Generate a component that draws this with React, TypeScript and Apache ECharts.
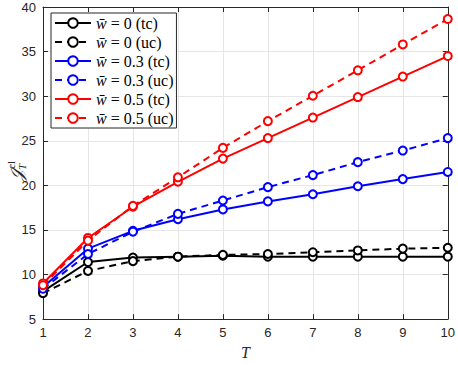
import React, { useEffect, useRef } from "react";
import * as echarts from "echarts";

const T = [1, 2, 3, 4, 5, 6, 7, 8, 9, 10];
const black_tc = [8.1, 11.4, 11.9, 12.0, 12.1, 12.0, 12.0, 12.0, 12.0, 12.0];
const black_uc = [7.9, 10.4, 11.5, 12.0, 12.2, 12.3, 12.5, 12.7, 12.9, 13.0];
const blue_tc = [8.6, 12.9, 14.9, 16.2, 17.3, 18.2, 19.0, 19.9, 20.7, 21.5];
const blue_uc = [8.4, 12.3, 14.8, 16.8, 18.3, 19.8, 21.15, 22.6, 23.9, 25.3];
const red_tc = [9.0, 14.1, 17.6, 20.4, 23.0, 25.3, 27.6, 29.9, 32.2, 34.5];
const red_uc = [8.8, 13.8, 17.7, 20.9, 24.2, 27.2, 30.05, 32.9, 35.8, 38.65];

const seriesDefs = [
  { name: "w̄ = 0 (tc)", label: "0 (tc)", data: black_tc, color: "#000000", dashed: false },
  { name: "w̄ = 0 (uc)", label: "0 (uc)", data: black_uc, color: "#000000", dashed: true },
  { name: "w̄ = 0.3 (tc)", label: "0.3 (tc)", data: blue_tc, color: "#0000ff", dashed: false },
  { name: "w̄ = 0.3 (uc)", label: "0.3 (uc)", data: blue_uc, color: "#0000ff", dashed: true },
  { name: "w̄ = 0.5 (tc)", label: "0.5 (tc)", data: red_tc, color: "#ff0000", dashed: false },
  { name: "w̄ = 0.5 (uc)", label: "0.5 (uc)", data: red_uc, color: "#ff0000", dashed: true },
];

const AX = "#262626";
const SERIF = "'Liberation Serif', 'DejaVu Serif', serif";
const SANS = "'Liberation Sans', Arial, sans-serif";

export default function App() {
  const ref = useRef<HTMLDivElement>(null);
  useEffect(() => {
    if (!ref.current) return;
    const chart = echarts.init(ref.current, null, { renderer: "svg" });
    const labelMap: Record<string, string> = {};
    seriesDefs.forEach((s) => (labelMap[s.name] = s.label));
    chart.setOption({
      animation: false,
      backgroundColor: "#ffffff",
      grid: { left: 43, right: 9, top: 7, bottom: 38, containLabel: false },
      xAxis: [
        {
          type: "value",
          min: 1,
          max: 10,
          interval: 1,
          name: "T",
          nameLocation: "middle",
          nameGap: 24,
          nameTextStyle: { fontFamily: SERIF, fontStyle: "italic", fontSize: 16, color: AX },
          axisLine: { show: true, lineStyle: { color: AX, width: 1 } },
          axisTick: { show: true, inside: true, length: 5, lineStyle: { color: AX } },
          axisLabel: { color: AX, fontFamily: SANS, fontSize: 13, margin: 7 },
          splitLine: { show: true, lineStyle: { color: "#e6e6e6", width: 1 } },
        },
        {
          type: "value",
          min: 1,
          max: 10,
          interval: 1,
          position: "top",
          axisLine: { show: true, lineStyle: { color: AX, width: 1 } },
          axisTick: { show: true, inside: true, length: 5, lineStyle: { color: AX } },
          axisLabel: { show: false },
          splitLine: { show: false },
        },
      ],
      yAxis: [
        {
          type: "value",
          min: 5,
          max: 40,
          interval: 5,
          axisLine: { show: true, lineStyle: { color: AX, width: 1 } },
          axisTick: { show: true, inside: true, length: 5, lineStyle: { color: AX } },
          axisLabel: { color: AX, fontFamily: SANS, fontSize: 13, margin: 7 },
          splitLine: { show: true, lineStyle: { color: "#e6e6e6", width: 1 } },
        },
        {
          type: "value",
          min: 5,
          max: 40,
          interval: 5,
          position: "right",
          axisLine: { show: true, lineStyle: { color: AX, width: 1 } },
          axisTick: { show: true, inside: true, length: 5, lineStyle: { color: AX } },
          axisLabel: { show: false },
          splitLine: { show: false },
        },
      ],
      legend: {
        orient: "vertical",
        left: 51,
        top: 13,
        padding: [2, 3, 2, 3],
        itemGap: 3,
        itemWidth: 36,
        itemHeight: 12,
        backgroundColor: "#ffffff",
        borderColor: AX,
        borderWidth: 1,
        borderRadius: 0,
        itemStyle: { borderWidth: 2 },
        data: seriesDefs.map((s) => s.name),
        formatter: (name: string) => "{i|w̄} = " + labelMap[name],
        textStyle: {
          fontFamily: SERIF,
          fontSize: 16,
          color: "#000",
          rich: {
            i: { fontFamily: SERIF, fontStyle: "italic", fontSize: 16, color: "#000" },
          },
        },
      },
      series: seriesDefs.map((s) => ({
        name: s.name,
        type: "line",
        xAxisIndex: 0,
        yAxisIndex: 0,
        data: T.map((t, i) => [t, s.data[i]]),
        symbol: "emptyCircle",
        symbolSize: 8,
        showAllSymbol: true,
        lineStyle: { color: s.color, width: 2, type: s.dashed ? [7, 5] : "solid" },
        itemStyle: { color: s.color, borderColor: s.color, borderWidth: 2 },
        emphasis: { disabled: true },
      })),
      graphic: [
        {
          type: "group",
          x: 17,
          y: 170,
          rotation: Math.PI / 2,
          children: [
            {
              type: "text",
              x: 0,
              y: 0,
              style: {
                text: "𝒥",
                font: "italic 18px " + SERIF,
                fill: AX,
                textAlign: "right",
                textVerticalAlign: "middle",
              },
            },
            {
              type: "text",
              x: 1,
              y: -6,
              style: {
                text: "cl",
                font: "11px " + SERIF,
                fill: AX,
                textAlign: "left",
                textVerticalAlign: "middle",
              },
            },
            {
              type: "text",
              x: 0,
              y: 5,
              style: {
                text: "T",
                font: "italic 11px " + SERIF,
                fill: AX,
                textAlign: "left",
                textVerticalAlign: "middle",
              },
            },
          ],
        },
      ],
    });
    return () => chart.dispose();
  }, []);
  return <div ref={ref} style={{ width: 458, height: 365, position: "absolute", left: 0, top: 0 }} />;
}
